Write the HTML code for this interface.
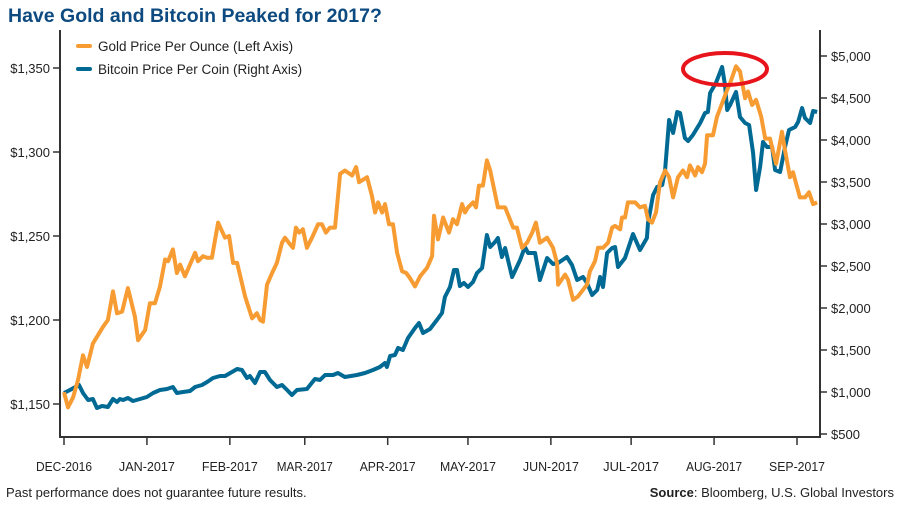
<!DOCTYPE html>
<html><head><meta charset="utf-8"><style>
body{margin:0;background:#fff;}
svg text{font-family:"Liberation Sans",sans-serif;}
</style></head><body>
<svg width="900" height="506" viewBox="0 0 900 506" xmlns="http://www.w3.org/2000/svg">
<text x="8" y="22" font-size="19.5" font-weight="bold" fill="#0d4a80">Have Gold and Bitcoin Peaked for 2017?</text>
<g id="axes"></g>
<g id="series"></g>
<ellipse cx="725" cy="69" rx="42" ry="16" fill="none" stroke="#e8141b" stroke-width="4"/>
<g>
<line x1="78" y1="46" x2="90" y2="46" stroke="#f79c33" stroke-width="4" stroke-linecap="round"/>
<text x="98" y="51" font-size="13.5" fill="#222">Gold Price Per Ounce (Left Axis)</text>
<line x1="78" y1="69" x2="90" y2="69" stroke="#006a94" stroke-width="4" stroke-linecap="round"/>
<text x="98" y="74" font-size="13.5" fill="#222">Bitcoin Price Per Coin (Right Axis)</text>
</g>
<text x="6" y="497" font-size="13" fill="#222">Past performance does not guarantee future results.</text>
<text x="894" y="497" font-size="13" fill="#222" text-anchor="end"><tspan font-weight="bold">Source</tspan>: Bloomberg, U.S. Global Investors</text>
</svg>
<script>
const monthLabels=["DEC-2016","JAN-2017","FEB-2017","MAR-2017","APR-2017","MAY-2017","JUN-2017","JUL-2017","AUG-2017","SEP-2017"];
const monthDays=[0,31,62,90,121,151,182,212,243,274];
const goldTicks=[1150,1200,1250,1300,1350];
const btcTicks=[500,1000,1500,2000,2500,3000,3500,4000,4500,5000];
const goldDays=[0,1.5,3.4,5.2,7.1,8.6,10.8,14.6,16.4,18.3,19.8,21.7,23.9,26.5,27.7,30.3,32.1,34,35.9,37.8,38.9,40.7,42.2,43.4,45.2,49,50.1,52,53.5,55.3,57.6,60.2,61.7,63.2,64.7,67.7,70.3,72.1,73.3,74.4,75.9,77.8,79.6,81.5,82.6,84.5,85.6,86.7,87.9,89.3,90.8,92.7,95,96.4,97.9,99.4,101.3,103.2,105,107.7,109.2,110.3,113.3,115.1,116.3,117.4,118.9,120,121.5,123,124.5,126.4,127.9,129.3,131.2,133.1,135.7,137.6,138.3,139.8,141.7,143.9,145.4,146.9,148.8,149.9,151,152.9,154,155.1,156.6,158.1,159.3,162.2,164.9,167.9,169.3,171.2,173.1,175,176.4,177.9,180.6,182.8,184.3,184.7,187.3,188.4,190.3,192.1,194,195.5,196.6,198.5,199.6,201.5,203.4,204.9,206,207.9,208.6,209.7,210.8,213.5,215.3,217.2,218.3,219.8,221.3,222.8,224.7,226.2,227.7,229.5,231.4,232.9,234,235.9,237,238.5,239.6,240.4,242.6,244.1,246,247.9,249,251.2,252.7,254.6,255.7,257.2,258.7,260.6,262.1,263.9,266.2,268.4,269.5,271.4,272.5,275.1,277,278.5,280,281.5];
const goldValues=[1157,1148,1154,1164,1179,1172,1186,1196,1200,1217,1204,1205,1219,1202,1188,1194,1210,1210,1220,1236,1235,1242,1228,1233,1226,1240,1235,1238,1237,1237,1258,1249,1250,1234,1234,1214,1201,1204,1200,1199,1221,1228,1234,1246,1249,1245,1243,1255,1252,1254,1243,1249,1257,1257,1252,1255,1255,1287,1289,1286,1291,1282,1285,1274,1264,1270,1264,1269,1257,1257,1240,1229,1228,1225,1220,1226,1231,1238,1262,1248,1261,1252,1260,1257,1269,1264,1267,1270,1267,1280,1280,1295,1289,1267,1267,1255,1255,1243,1246,1252,1258,1246,1249,1243,1234,1221,1227,1224,1212,1214,1218,1221,1229,1235,1243,1243,1246,1255,1256,1254,1261,1261,1270,1270,1267,1268,1260,1258,1264,1282,1289,1285,1273,1285,1289,1285,1292,1286,1291,1288,1293,1310,1310,1321,1329,1337,1341,1351,1348,1332,1336,1328,1331,1321,1308,1308,1293,1312,1301,1285,1288,1273,1273,1276,1269,1270];
const btcDays=[0,2.2,5.6,7.1,9,10.8,12.3,14.2,16.4,18.3,19.8,20.9,22.1,23.9,25.8,28.4,31,33.3,35.9,38.5,40.7,42.2,44.5,47.1,49,51.6,53.5,55.7,58.3,60.2,62.8,64.7,66.5,68.4,69.5,71.4,73.3,75.1,77,79.6,81.5,83.4,85.2,87.1,90.8,93.8,95.7,97.6,100.6,102.4,105,109.5,112.5,115.5,118.1,120,120.7,121.9,123.7,124.9,126.7,128.6,131.2,132.7,134.2,136.8,139.4,141.3,142.4,144.3,145.8,146.9,148,149.5,151,152.9,154.4,156.3,158.1,159.3,161.1,162.2,163.7,164.9,167.5,170.5,172.3,173.5,176.1,177.9,180.6,182.8,184.7,188,189.9,191.8,194,195.5,197.4,199.3,200.4,201.5,203,204.9,206,207.1,209.7,212.7,215.3,217.9,218.3,220.2,221.7,223.6,224.7,226.2,227.7,229.2,230.3,232.1,233.3,235.1,237.8,239.6,240.7,241.5,243.7,246,247.1,247.9,249,251.2,252.7,254.6,256.1,257.6,258.7,260.2,261.3,262.8,264.7,265.8,267.7,269.5,271,273.3,274.4,275.9,277,278.9,280,281.5];
const btcValues=[988,1024,1083,988,905,917,810,833,821,917,881,917,905,929,893,917,940,988,1024,1036,1060,988,1000,1012,1060,1083,1119,1167,1190,1190,1238,1274,1262,1167,1190,1107,1238,1238,1143,1060,1083,1024,964,1024,1036,1155,1143,1202,1202,1226,1179,1202,1226,1262,1298,1345,1298,1429,1440,1524,1500,1643,1762,1821,1702,1750,1857,1940,2131,2250,2452,2452,2262,2298,2250,2310,2417,2476,2869,2726,2786,2833,2607,2714,2369,2571,2726,2655,2655,2333,2595,2524,2536,2607,2512,2333,2369,2298,2155,2214,2369,2250,2655,2714,2726,2488,2595,2881,2690,2833,3012,3345,3440,3464,3643,4238,4083,4333,4321,4024,3988,4060,4202,4321,4333,4560,4679,4869,4655,4357,4417,4571,4274,4202,4179,3845,3405,3679,3976,3917,3917,3643,3619,3917,4119,4155,4214,4381,4262,4202,4345,4333];

const NS="http://www.w3.org/2000/svg";
const X0=64,PXDAY=(797-64)/274;
const xOf=d=>X0+d*PXDAY;
const yGold=v=>68+(1350-v)*1.68;
const yBtc=v=>56+(5000-v)*42/500;
function mk(tag,attrs,parent){const e=document.createElementNS(NS,tag);for(const k in attrs)e.setAttribute(k,attrs[k]);parent.appendChild(e);return e;}
const axes=document.getElementById('axes'),series=document.getElementById('series');
let e;
e=mk('line',{x1:60,y1:30,x2:60,y2:437,stroke:'#333','stroke-width':2},axes);


e=mk('line',{x1:820,y1:30,x2:820,y2:437,stroke:'#333','stroke-width':2},axes);


e=mk('line',{x1:59,y1:437,x2:821,y2:437,stroke:'#333','stroke-width':2},axes);


goldTicks.forEach(v=>{const y=yGold(v);
 e=mk('line',{x1:53,y1:y,x2:60,y2:y,stroke:'#333','stroke-width':1.5},axes);
 
 
 e=mk('text',{x:50,y:y+5,'font-size':13,fill:'#222','text-anchor':'end'},axes);
 e.textContent='$'+v.toLocaleString('en-US');
 
 
});
btcTicks.forEach(v=>{const y=yBtc(v);
 e=mk('line',{x1:820,y1:y,x2:827,y2:y,stroke:'#333','stroke-width':1.5},axes);
 
 
 e=mk('text',{x:831,y:y+5,'font-size':13,fill:'#222'},axes);
 e.textContent='$'+v.toLocaleString('en-US');
 
 
});
monthLabels.forEach((m,i)=>{const x=xOf(monthDays[i]);
 e=mk('line',{x1:x,y1:437,x2:x,y2:445,stroke:'#333','stroke-width':1.5},axes);
 
 
 e=mk('text',{x:x,y:471,'font-size':13,fill:'#222','text-anchor':'middle',textLength:56,lengthAdjust:'spacingAndGlyphs'},axes);
 e.textContent=m;
 
 
});
function pathOf(days,vals,yf){return days.map((d,i)=>(i?'L':'M')+xOf(d).toFixed(1)+','+yf(vals[i]).toFixed(1)).join('');}
e=mk('path',{d:pathOf(btcDays,btcValues,yBtc),fill:'none',stroke:'#006a94','stroke-width':4,'stroke-linejoin':'round'},series);


e=mk('path',{d:pathOf(goldDays,goldValues,yGold),fill:'none',stroke:'#f79c33','stroke-width':4,'stroke-linejoin':'round'},series);


</script>
</body></html>
